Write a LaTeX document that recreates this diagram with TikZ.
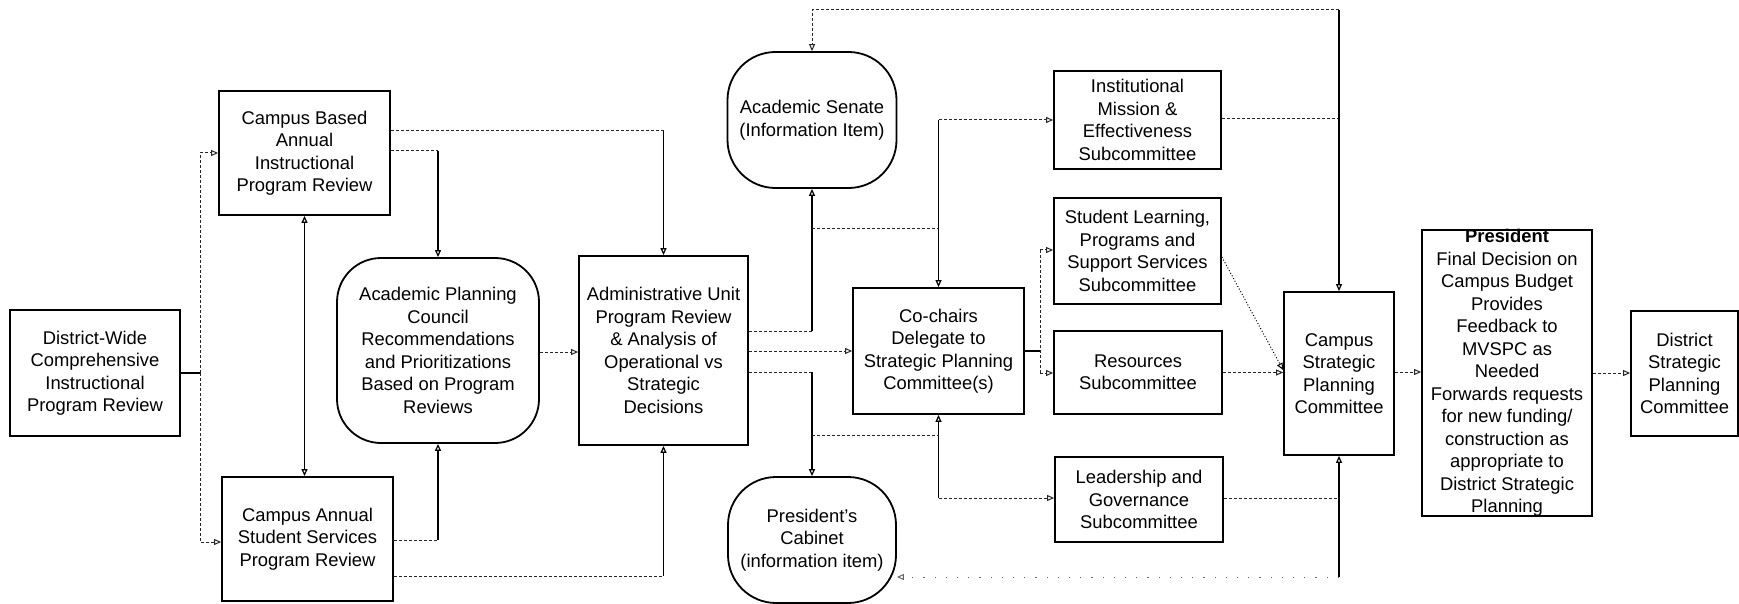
\documentclass[tikz,border=0pt]{standalone}
\usepackage{fontspec}
\setmainfont{Liberation Sans}
\usetikzlibrary{arrows.meta}
\begin{document}
\begin{tikzpicture}[x=0.5pt,y=-0.5pt,
  every node/.style={font=\fontsize{9.2}{11.25}\selectfont, align=center, inner sep=0pt},
  box/.style={draw, line width=0.9pt},
  rbox/.style={draw, line width=0.9pt, rounded corners=#1},
  tip/.style={-{Triangle[open,length=3.5pt,width=3pt]}},
  tips/.style={{Triangle[open,length=3.5pt,width=3pt]}-{Triangle[open,length=3.5pt,width=3pt]}},
  solidc/.style={line width=0.6pt},
  dotc/.style={line width=0.5pt, dash pattern=on 1.5pt off 1pt, black!85},
  faintc/.style={line width=0.5pt, dash pattern=on 0.6pt off 5pt, black!60},
]
\useasboundingbox (0,0) rectangle (1739,604);

% nodes
\node[box, minimum width=85pt, minimum height=63pt] (dist) at (95,373) {District-Wide\\Comprehensive\\Instructional\\Program Review};
\node[box, minimum width=85.5pt, minimum height=62pt] (cbip) at (304.5,153) {Campus Based\\Annual\\Instructional\\Program Review};
\node[box, minimum width=85.5pt, minimum height=62pt] (cass) at (307.5,539) {Campus Annual\\Student Services\\Program Review};
\node[rbox=22pt, minimum width=101pt, minimum height=92.5pt] (apc) at (438,350.5) {Academic Planning\\Council\\Recommendations\\and Prioritizations\\Based on Program\\Reviews};
\node[box, minimum width=84.5pt, minimum height=94.5pt] (admin) at (663.5,350.5) {Administrative Unit\\Program Review\\\& Analysis of\\Operational vs\\Strategic\\Decisions};
\node[rbox=24pt, minimum width=84.5pt, minimum height=68pt] (acsen) at (812,120) {Academic Senate\\(Information Item)};
\node[rbox=24pt, minimum width=84pt, minimum height=63pt] (cab) at (812,540) {President's\\Cabinet\\(information item)};
\node[box, minimum width=85.5pt, minimum height=63pt] (cochair) at (938.5,351) {Co-chairs\\Delegate to\\Strategic Planning\\Committee(s)};
\node[box, minimum width=83.5pt, minimum height=49pt] (inst) at (1137.5,120) {Institutional\\Mission \&\\Effectiveness\\Subcommittee};
\node[box, minimum width=83.5pt, minimum height=53pt] (slps) at (1137.5,251) {Student Learning,\\Programs and\\Support Services\\Subcommittee};
\node[box, minimum width=84pt, minimum height=41.5pt] (res) at (1138,372.5) {Resources\\Subcommittee};
\node[box, minimum width=84pt, minimum height=42.5pt] (lead) at (1139,499.5) {Leadership and\\Governance\\Subcommittee};
\node[box, minimum width=55pt, minimum height=81.5pt] (csp) at (1339,373.5) {Campus\\Strategic\\Planning\\Committee};
\node[box, minimum width=85pt, minimum height=143pt] (pres) at (1507,373) {};
\node (prestext) at (pres.center) {\textbf{President}\\Final Decision on\\Campus Budget\\Provides\\Feedback to\\MVSPC as\\Needed\\Forwards requests\\for new funding/\\construction as\\appropriate to\\District Strategic\\Planning};
\node[box, minimum width=53.5pt, minimum height=62.5pt] (dsp) at (1684.5,373.5) {District\\Strategic\\Planning\\Committee};

% connectors
\coordinate (j1) at (200,373);
\draw[solidc] (dist.east) -- (j1);
\draw[dotc,tip] (j1) |- (cbip.west);
\draw[dotc,tip] (j1) |- (cass.west |- 0,542);
\draw[solidc,tips] (cbip.south) -- (cbip.south |- cass.north);

\draw[dotc] (cbip.east |- 0,151) -- (apc.north |- 0,151);
\draw[solidc,tip] (apc.north |- 0,151) -- (apc.north);
\draw[dotc] (cbip.east |- 0,131) -- (admin.north |- 0,131);
\draw[solidc,tip] (admin.north |- 0,131) -- (admin.north);
\draw[dotc] (cass.east |- 0,540) -- (apc.south |- 0,540);
\draw[solidc,tip] (apc.south |- 0,540) -- (apc.south);
\draw[dotc] (cass.east |- 0,576) -- (admin.south |- 0,576);
\draw[solidc,tip] (admin.south |- 0,576) -- (admin.south);
\draw[dotc,tip] (apc.east |- 0,352) -- (admin.west |- 0,352);

\draw[dotc] (admin.east |- 0,331) -- (acsen.south |- 0,331);
\draw[solidc,tip] (acsen.south |- 0,331) -- (acsen.south);
\draw[dotc,tip] (admin.east |- 0,351) -- (cochair.west);
\draw[dotc] (admin.east |- 0,372) -- (cab.north |- 0,372);
\draw[solidc,tip] (cab.north |- 0,372) -- (cab.north);

\draw[dotc] (acsen.south |- 0,229) -- (cochair.north |- 0,229);
\draw[solidc,tip] (cochair.north |- inst.west) -- (cochair.north);
\draw[dotc,tip] (cochair.north |- inst.west) -- (inst.west);
\draw[solidc,tip] (cochair.south |- 0,498) -- (cochair.south);
\draw[dotc,tip] (cochair.south |- 0,498) -- (lead.west |- 0,498);
\draw[dotc] (cab.north |- 0,435) -- (cochair.south |- 0,435);

\coordinate (j2) at (1040,351);
\draw[solidc] (cochair.east) -- (j2);
\draw[dotc] (j2 |- 0,250) -- (j2 |- 0,373);
\draw[dotc,tip] (j2 |- 0,250) -- (slps.west |- 0,250);
\draw[dotc,tip] (j2 |- 0,373) -- (res.west |- 0,373);

\draw[dotc] (inst.east |- 0,119) -- (csp.north |- 0,119);
\draw[dotc,tip] (csp.north |- 0,10) -| (acsen.north);
\draw[solidc,tip] (csp.north |- 0,10) -- (csp.north);
\draw[densely dotted, line width=0.5pt, tip] (slps.east |- 0,257) -- (csp.west |- 0,370);
\draw[dotc,tip] (res.east) -- (csp.west |- res.east);
\draw[dotc] (lead.east |- 0,498) -- (csp.south |- 0,498);
\draw[solidc,tip] (csp.south |- 0,577) -- (csp.south);
\draw[faintc,tip] (csp.south |- 0,577) -- (cab.east |- 0,577);
\draw[dotc,tip] (csp.east |- 0,372) -- (pres.west |- 0,372);
\draw[dotc,tip] (pres.east |- 0,373) -- (dsp.west |- 0,373);
\end{tikzpicture}
\end{document}
